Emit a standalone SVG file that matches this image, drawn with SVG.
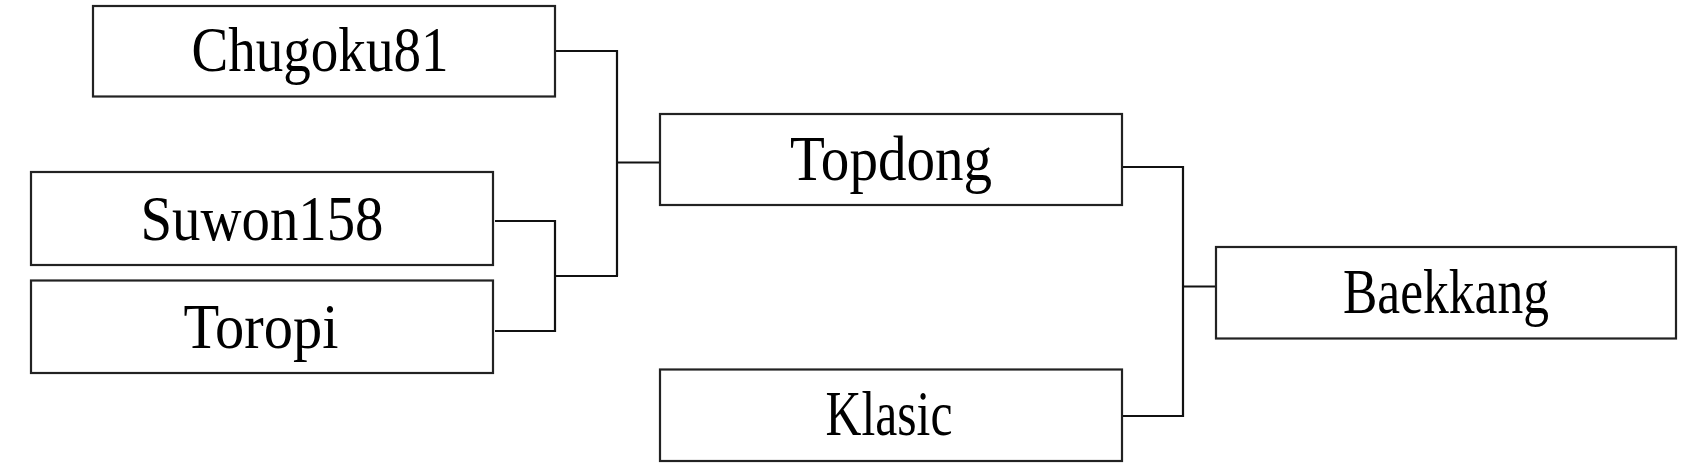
<svg xmlns="http://www.w3.org/2000/svg" width="1694" height="473" viewBox="0 0 1694 473">
<style>
.box{fill:#ffffff;stroke:#222222;stroke-width:2.2}
.lbl{font-family:"Liberation Serif","Times New Roman",serif;font-size:64px;fill:#000;text-anchor:middle}
.con{fill:none;stroke:#111111;stroke-width:2.2}
</style>
<rect width="1694" height="473" fill="#ffffff"/>
<g id="connectors">
<polyline class="con" points="556,51 617,51 617,276"/>
<polyline class="con" points="495,221 555,221 555,331 495,331"/>
<line class="con" x1="555" y1="276" x2="618" y2="276"/>
<line class="con" x1="617" y1="162.5" x2="660" y2="162.5"/>
<polyline class="con" points="1123,167 1183,167 1183,416 1123,416"/>
<line class="con" x1="1183" y1="286.5" x2="1216" y2="286.5"/>
</g>
<g id="chugoku81">
<rect class="box" x="93" y="6" width="462" height="90.5"/>
<text class="lbl" x="320" y="71" textLength="257" lengthAdjust="spacingAndGlyphs">Chugoku81</text>
</g>
<g id="suwon158">
<rect class="box" x="31" y="172" width="462" height="93"/>
<text class="lbl" x="262" y="239.5" textLength="243" lengthAdjust="spacingAndGlyphs">Suwon158</text>
</g>
<g id="toropi">
<rect class="box" x="31" y="280.5" width="462" height="92.5"/>
<text class="lbl" x="261" y="347.5" textLength="155" lengthAdjust="spacingAndGlyphs">Toropi</text>
</g>
<g id="topdong">
<rect class="box" x="660" y="114" width="462" height="91"/>
<text class="lbl" x="891" y="180" textLength="202" lengthAdjust="spacingAndGlyphs">Topdong</text>
</g>
<g id="klasic">
<rect class="box" x="660" y="369.5" width="462" height="91.5"/>
<text class="lbl" x="889" y="435" textLength="127" lengthAdjust="spacingAndGlyphs">Klasic</text>
</g>
<g id="baekkang">
<rect class="box" x="1216" y="247" width="460" height="91.5"/>
<text class="lbl" x="1446" y="313" textLength="206" lengthAdjust="spacingAndGlyphs">Baekkang</text>
</g>
</svg>
